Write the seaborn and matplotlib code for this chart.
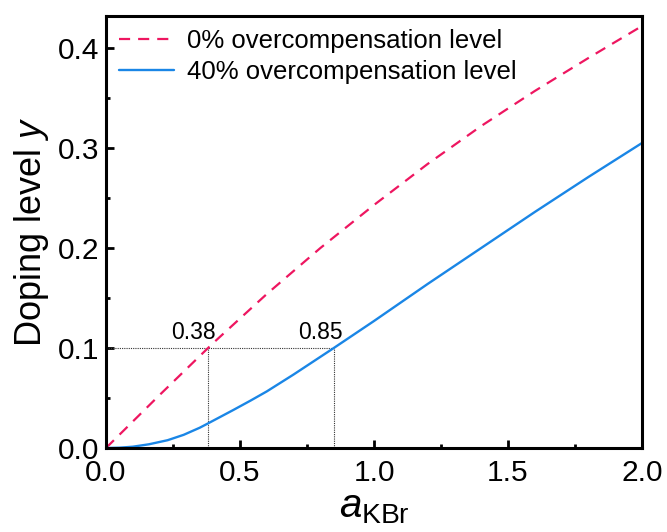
import matplotlib
matplotlib.use("Agg")
import matplotlib.pyplot as plt
import seaborn as sns
import pandas as pd
from matplotlib.ticker import MultipleLocator

# Data
x0 = [0.0, 0.2, 0.4, 0.6, 0.8, 1.0, 1.2, 1.4, 1.6, 1.8, 2.0]
y0 = [0.0, 0.053, 0.105, 0.154, 0.200, 0.243, 0.284, 0.322, 0.357, 0.390, 0.422]

x40 = [0.0, 0.05, 0.1, 0.16, 0.23, 0.29, 0.35, 0.38, 0.475, 0.54, 0.6, 0.7,
       0.85, 1.0, 1.2, 1.4, 1.6, 1.8, 2.0]
y40 = [0.0, 0.0003, 0.0013, 0.0037, 0.0078, 0.0132, 0.0203, 0.0245, 0.0380, 0.0475, 0.0566, 0.0735,
       0.100, 0.127, 0.164, 0.200, 0.236, 0.271, 0.305]

labels = ["0% overcompensation level", "40% overcompensation level"]
target_y = 0.1
cross_x = [0.38, 0.85]
cross_labels = ["0.38", "0.85"]

sns.set_style("ticks")
plt.rcParams["font.family"] = ["Liberation Sans", "DejaVu Sans"]
plt.rcParams["mathtext.fontset"] = "custom"
plt.rcParams["mathtext.rm"] = "Liberation Sans"
plt.rcParams["mathtext.it"] = "Liberation Sans:italic"
plt.rcParams["text.color"] = "black"
plt.rcParams["axes.labelcolor"] = "black"
plt.rcParams["xtick.color"] = "black"
plt.rcParams["ytick.color"] = "black"

df0 = pd.DataFrame({"x": x0, "y": y0})
df40 = pd.DataFrame({"x": x40, "y": y40})

fig = plt.figure(figsize=(6.67, 5.32), dpi=100)
ax = fig.add_axes([106/667, 1-448/532, (642-106)/667, (448-16)/532])

pink = "#EE1660"
blue = "#1A86E6"

sns.lineplot(data=df0, x="x", y="y", ax=ax, color=pink, lw=1.6,
             label=labels[0])
ax.lines[-1].set_dashes((5.0, 3.6))
sns.lineplot(data=df40, x="x", y="y", ax=ax, color=blue, lw=1.7,
             label=labels[1])

# dotted guide lines
ax.plot([0, cross_x[1]], [target_y, target_y], ls=(0, (1, 1)), color="#333333", lw=0.8, zorder=1)
for cx in cross_x:
    ax.plot([cx, cx], [0, target_y], ls=(0, (1, 1)), color="#333333", lw=0.8, zorder=1)
ax.text(0.325, 0.104, cross_labels[0], ha="center", va="bottom", fontsize=16.5)
ax.text(0.80, 0.104, cross_labels[1], ha="center", va="bottom", fontsize=16.5)

ax.set_xlim(0, 2.0)
ax.set_ylim(0, 0.432)
ax.xaxis.set_major_locator(MultipleLocator(0.5))
ax.xaxis.set_minor_locator(MultipleLocator(0.25))
ax.yaxis.set_major_locator(MultipleLocator(0.1))
ax.yaxis.set_minor_locator(MultipleLocator(0.05))
ax.tick_params(which="both", direction="in", width=2.0, top=False, right=False)
ax.tick_params(which="major", length=6, labelsize=21.5)
ax.tick_params(axis="x", which="major", pad=8)
ax.tick_params(axis="y", which="major", pad=5)
ax.tick_params(which="minor", length=3)
for s in ax.spines.values():
    s.set_linewidth(2.2)
    s.set_color("black")

ax.set_xlabel(r"$\mathit{a}_{\mathrm{KBr}}$", fontsize=29, labelpad=1)
ax.set_ylabel(r"Doping level $\mathit{y}$", fontsize=26, labelpad=5)

ax.legend(loc="upper left", frameon=False, fontsize=18.5, handlelength=2.15,
          handletextpad=0.5, labelspacing=0.28, borderaxespad=0.4, borderpad=0.1)

fig.savefig("out.png", dpi=100)
